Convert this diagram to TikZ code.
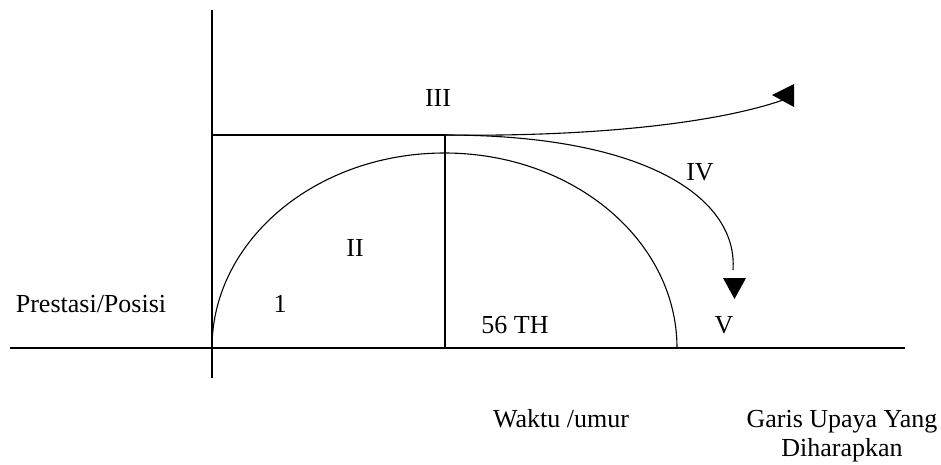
\documentclass[tikz,border=0pt]{standalone}
\usepackage{fontspec}
\setmainfont{Liberation Serif}
\begin{document}
\begin{tikzpicture}[x=1pt, y=-1pt, line width=1.1pt,
    lbl/.style={inner sep=0pt, anchor=base, font=\fontsize{26}{29}\selectfont}]
    \useasboundingbox (0,0) rectangle (941,464);

    % Axis
    \draw (10,348) -- (905,348);
    \draw (212,10) -- (212,378);

    % Level line and peak
    \draw (212,135) -- (445,135);
    \draw (445,135) -- (445,348);

    % Half ellipse
    \draw (212,348) arc[start angle=180, end angle=0, x radius=232.5pt, y radius=195pt];

    % Curves
    \draw (445,135) .. controls (600,137) and (720,122) .. (783,100);
    \draw (445,135) .. controls (650,135) and (738,200) .. (733,270);

    % Heads
    \fill (772,95) -- (794,84) -- (794,107) -- cycle;
    \fill (723,278) -- (746,278) -- (734.5,299) -- cycle;

    % Labels
    \node[lbl] (iii) at (438,106) {III};
    \node[lbl] (iv) at (700,180) {IV};
    \node[lbl] (ii) at (355,256) {II};
    \node[lbl] (one) at (280,312) {1};
    \node[lbl] (pos) at (91,312) {Prestasi/Posisi};
    \node[lbl] (th) at (515,333) {56 TH};
    \node[lbl] (v) at (724,333) {V};
    \node[lbl] (waktu) at (561,427) {Waktu /umur};
    \node[lbl, anchor=north, align=center] (garis) at (842,410) {Garis Upaya Yang\\Diharapkan};
\end{tikzpicture}
\end{document}
